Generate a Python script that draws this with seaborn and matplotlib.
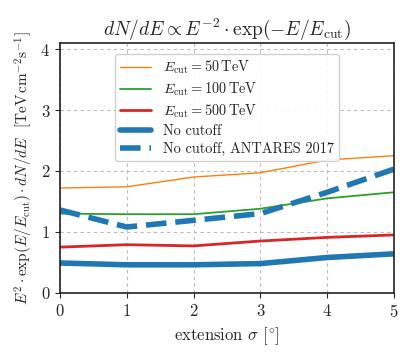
import matplotlib
matplotlib.use('Agg')
import matplotlib.pyplot as plt
import seaborn as sns
import pandas as pd

sigma = [0, 1, 2, 3, 4, 5]
flux_50 = [1.72, 1.74, 1.90, 1.97, 2.18, 2.25]
flux_100 = [1.30, 1.29, 1.29, 1.38, 1.55, 1.65]
flux_500 = [0.75, 0.79, 0.77, 0.85, 0.91, 0.95]
flux_nocut = [0.49, 0.46, 0.46, 0.48, 0.58, 0.64]
flux_antares = [1.36, 1.08, 1.19, 1.30, 1.65, 2.03]

labels = [r'$E_\mathrm{cut} = 50\,\mathrm{TeV}$',
          r'$E_\mathrm{cut} = 100\,\mathrm{TeV}$',
          r'$E_\mathrm{cut} = 500\,\mathrm{TeV}$',
          'No cutoff',
          'No cutoff, ANTARES 2017']

sns.set_style('ticks')
plt.rcParams['font.family'] = ['cmr10', 'DejaVu Serif']
plt.rcParams['mathtext.fontset'] = 'cm'
plt.rcParams['axes.formatter.use_mathtext'] = True
plt.rcParams['axes.unicode_minus'] = False

df = pd.DataFrame({'sigma': sigma * 5,
                   'flux': flux_50 + flux_100 + flux_500 + flux_nocut + flux_antares,
                   'label': sum([[l] * len(sigma) for l in labels], [])})

fig = plt.figure(figsize=(4.16, 3.58), dpi=100)
ax = fig.add_axes([0.144, 0.182, 0.803, 0.698])

styles = [('#ff7f0e', 1.0, '-'), ('#2ca02c', 1.3, '-'), ('#d62728', 2.0, '-'),
          ('#1f77b4', 4.0, '-'), ('#1f77b4', 4.0, '--')]
for lab, (c, lw, ls) in zip(labels, styles):
    sns.lineplot(data=df[df['label'] == lab], x='sigma', y='flux', ax=ax,
                 color=c, lw=lw, ls=ls, label=lab)

ax.set_xlim(0, 5)
ax.set_ylim(0, 4.1)
ax.set_yticks([0, 1, 2, 3, 4])
ax.grid(True, ls=(0, (3, 3)), color='#bbbbbb', lw=0.8)
for s in ax.spines.values():
    s.set_linewidth(1.2)
    s.set_color('#222222')
ax.tick_params(labelsize=12, length=3.5)
ax.set_xlabel(r'extension $\sigma$ [$^{\circ}$]', fontsize=12)
ax.set_ylabel(r'$E^2 \cdot \exp(E/E_\mathrm{cut}) \cdot dN/dE$  [$\mathrm{TeV\,cm^{-2}s^{-1}}$]',
              fontsize=11)
ax.set_title(r'$dN/dE \propto E^{-2} \cdot \exp(-E/E_\mathrm{cut})$', fontsize=14)
leg = ax.legend(loc='upper center', fontsize=10.3, framealpha=0.9,
                bbox_to_anchor=(0.5, 0.985), labelspacing=0.3, handlelength=2.2,
                borderpad=0.35)
leg.get_frame().set_edgecolor('#cccccc')

fig.savefig('out.png', dpi=100)
